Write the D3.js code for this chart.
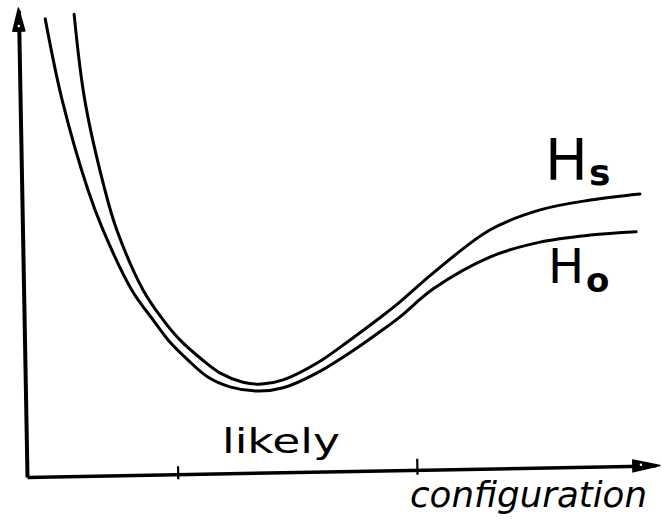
<!DOCTYPE html>
<html>
<head>
<meta charset="utf-8">
<script src="https://cdn.jsdelivr.net/npm/d3@7"></script>
<style>
  html, body { margin: 0; padding: 0; background: #fff; }
  svg { display: block; }
  text { font-family: "DejaVu Sans", sans-serif; fill: #000; }
</style>
</head>
<body>
<svg id="chart" width="662" height="532"></svg>
<script>
// Energy profile along the configuration coordinate (arbitrary units, 0-100)
const hsConfig = [7.5, 9.2, 12.4, 14.3, 18.5, 21.7, 24.4, 27.9, 30.7, 34.4, 37.4, 40.8, 46.2, 51.4, 56.2, 59.4, 64.7, 73.7, 81.7, 89.7, 97.6];
const hsEnergy = [99.1, 80.7, 61.5, 52.9, 40.0, 33.6, 29.3, 25.1, 22.3, 20.3, 19.9, 20.8, 24.4, 29.3, 34.1, 37.5, 43.7, 52.9, 57.2, 59.3, 60.6];

const hoConfig = [2.9, 5.6, 9.7, 12.1, 16.7, 20.1, 22.5, 25.6, 28.8, 32.3, 36.8, 40.8, 46.2, 51.4, 56.2, 59.4, 64.7, 73.7, 81.7, 89.7, 97.0];
const hoEnergy = [98.1, 80.7, 61.5, 52.9, 40.0, 33.6, 29.3, 25.1, 21.4, 19.3, 18.4, 19.1, 22.3, 26.6, 31.1, 34.3, 40.3, 47.1, 50.3, 51.8, 52.5];

// Tick marks bounding the "likely" region of configuration space
const likelyTicks = [24.0, 62.1];

const curveLabels = ["H", "H"];
const curveSubscripts = ["s", "o"];

const svg = d3.select("#chart");
const originX = 27, originY = 477;

const x = d3.scaleLinear().domain([0, 100]).range([originX, 655]);
const y = d3.scaleLinear().domain([0, 100]).range([originY, 10]);

// Axes, tilted slightly as on the hand-drawn sheet
const axes = svg.append("g")
  .attr("transform", `rotate(-1.05, ${originX}, ${originY})`);

const xAxis = d3.axisBottom(x)
  .tickValues(likelyTicks)
  .tickFormat("")
  .tickSizeOuter(0);

const gx = axes.append("g")
  .attr("transform", `translate(0, ${originY})`)
  .call(xAxis);
gx.select(".domain").attr("stroke", "#000").attr("stroke-width", 3.5);
gx.selectAll(".tick line")
  .attr("stroke", "#000").attr("stroke-width", 2.2)
  .attr("y1", (d, i) => i === 0 ? -8 : -11)
  .attr("y2", 5);

const yAxis = d3.axisLeft(y).ticks(0).tickSizeOuter(0);
const gy = axes.append("g")
  .attr("transform", `translate(${originX}, 0)`)
  .call(yAxis);
gy.select(".domain").attr("stroke", "#000").attr("stroke-width", 4);

// Arrowheads
const yTop = y(100);
axes.append("path")
  .attr("d", `M${originX},${yTop - 2} L${originX - 6},${yTop + 21} L${originX + 6},${yTop + 21} Z`)
  .attr("fill", "#000").attr("stroke", "#000").attr("stroke-width", 1.5)
  .attr("stroke-linejoin", "round");
axes.append("circle")
  .attr("cx", originX).attr("cy", yTop + 16).attr("r", 1.3).attr("fill", "#fff");

const xEnd = x(100);
axes.append("path")
  .attr("d", `M${xEnd + 5},${originY} L${xEnd - 22},${originY - 6} L${xEnd - 22},${originY + 6} Z`)
  .attr("fill", "#000").attr("stroke", "#000").attr("stroke-width", 1.5)
  .attr("stroke-linejoin", "round");
axes.append("circle")
  .attr("cx", xEnd - 14).attr("cy", originY - 1).attr("r", 1.2).attr("fill", "#fff");

// Energy curves
const line = d3.line()
  .x(d => x(d[0]))
  .y(d => y(d[1]))
  .curve(d3.curveCatmullRom.alpha(0.5));

const series = [
  d3.zip(hsConfig, hsEnergy),
  d3.zip(hoConfig, hoEnergy)
];

svg.append("g")
  .selectAll("path")
  .data(series)
  .join("path")
  .attr("d", line)
  .attr("fill", "none")
  .attr("stroke", "#000")
  .attr("stroke-width", 3)
  .attr("stroke-linecap", "round")
  .attr("stroke-linejoin", "round");

// Curve labels
const labelSpecs = [
  { hx: 545, hy: 180, hs: 57, sx: 589, sy: 185, ss: 36 },
  { hx: 548, hy: 283, hs: 48, sx: 586, sy: 292, ss: 34 }
];
labelSpecs.forEach((s, i) => {
  const t = svg.append("text");
  t.append("tspan")
    .attr("x", s.hx).attr("y", s.hy)
    .attr("font-size", s.hs)
    .text(curveLabels[i]);
  t.append("tspan")
    .attr("x", s.sx).attr("y", s.sy)
    .attr("font-size", s.ss)
    .attr("font-weight", "bold")
    .text(curveSubscripts[i]);
});

// Axis annotations
svg.append("text")
  .attr("x", 222).attr("y", 453)
  .attr("font-size", 34)
  .attr("textLength", 118)
  .attr("lengthAdjust", "spacingAndGlyphs")
  .text("likely");

svg.append("text")
  .attr("x", 410).attr("y", 507)
  .attr("font-size", 35)
  .attr("font-style", "italic")
  .attr("textLength", 237)
  .attr("lengthAdjust", "spacingAndGlyphs")
  .text("configuration");
</script>
</body>
</html>
